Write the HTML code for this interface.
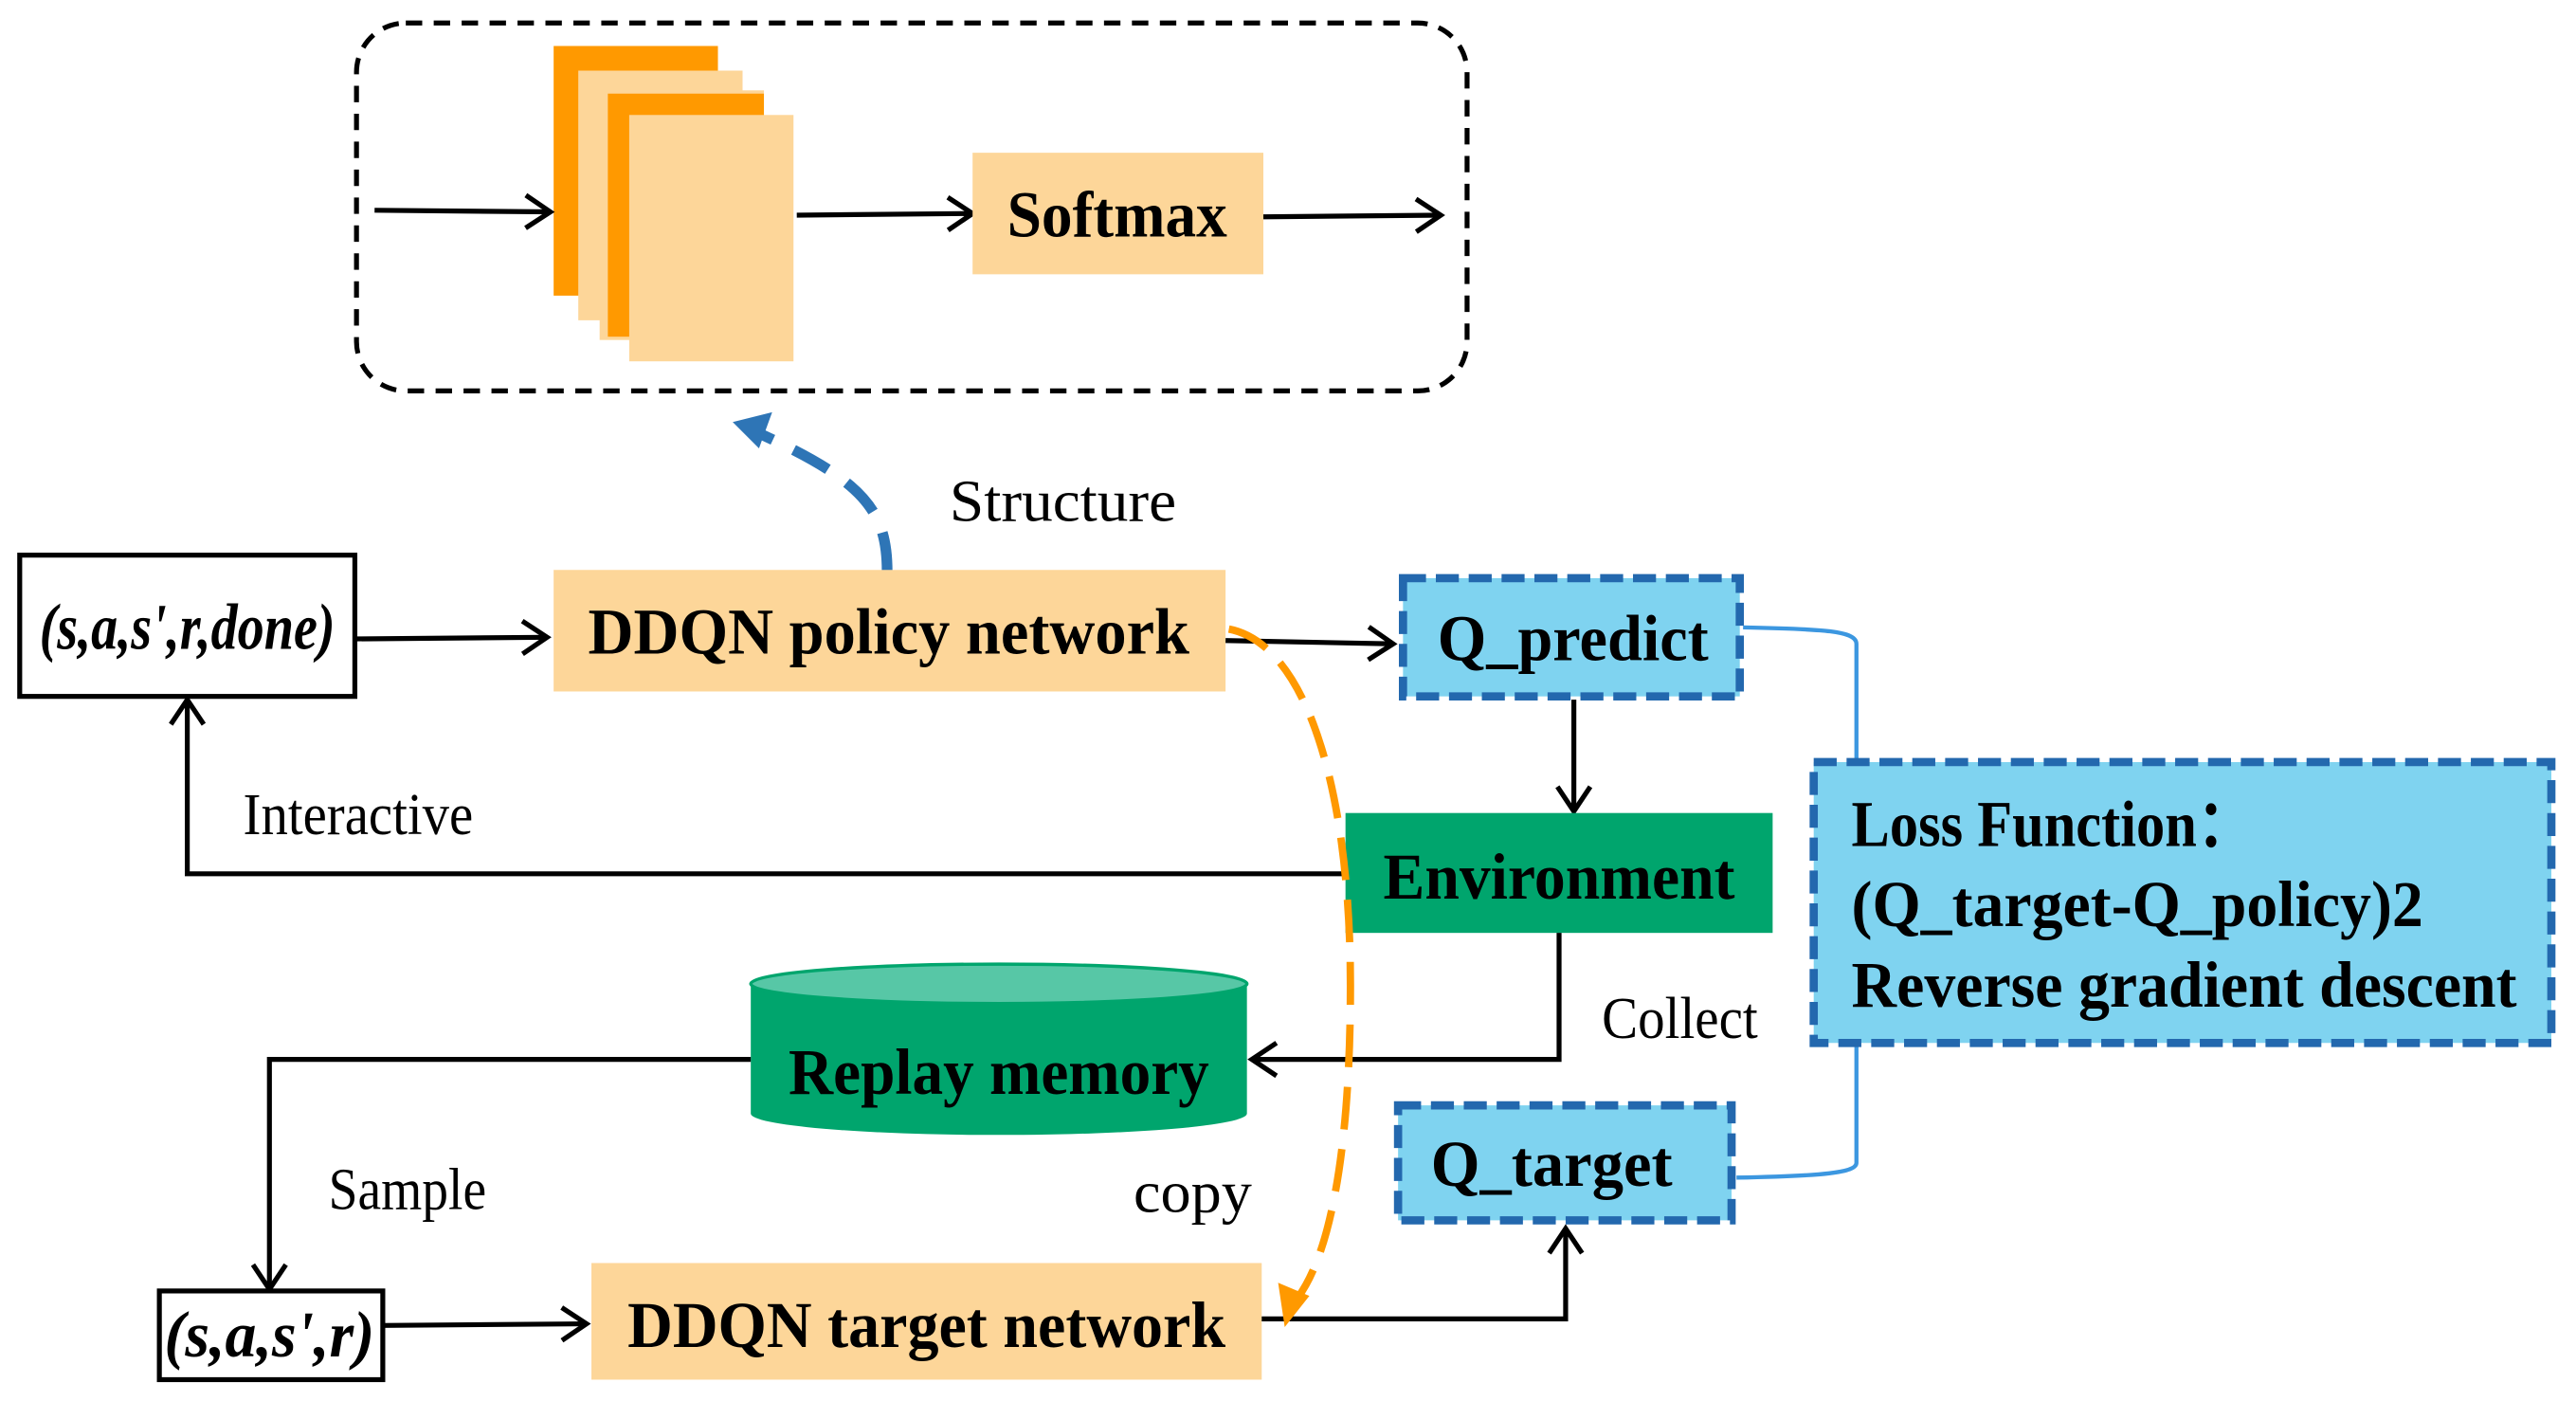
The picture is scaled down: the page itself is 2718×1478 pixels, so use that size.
<!DOCTYPE html>
<html><head><meta charset="utf-8"><style>
html,body{margin:0;padding:0;background:#fff;}
svg{display:block;}
text{font-family:"Liberation Serif",serif;}
.b{font-weight:bold;font-size:40px;}
.n{font-size:36px;}
</style></head><body>
<svg width="2718" height="1478" viewBox="0 0 1568 853" preserveAspectRatio="none" xmlns="http://www.w3.org/2000/svg">
<defs>
<marker id="ah" markerWidth="24" markerHeight="24" refX="19" refY="12" orient="auto" markerUnits="userSpaceOnUse">
<path d="M4,2 L19,12 L4,22" fill="none" stroke="#000" stroke-width="3"/>
</marker>
</defs>
<rect x="217" y="14" width="676" height="224" rx="30" fill="none" stroke="#000" stroke-width="3" stroke-dasharray="10,7"/>
<rect x="337" y="28" width="100" height="152" fill="#FF9900"/>
<rect x="352" y="43" width="100" height="152" fill="#FDD699"/>
<rect x="365" y="55" width="100" height="152" fill="#FDD699"/>
<rect x="370" y="57" width="95" height="148" fill="#FF9900"/>
<rect x="383" y="70" width="100" height="150" fill="#FDD699"/>
<line x1="228" y1="128" x2="335" y2="129" stroke="#000" stroke-width="3" marker-end="url(#ah)"/>
<line x1="485" y1="131" x2="592" y2="130" stroke="#000" stroke-width="3" marker-end="url(#ah)"/>
<rect x="592" y="93" width="177" height="74" fill="#FDD699"/>
<text x="613" y="144" class="b" textLength="134" lengthAdjust="spacingAndGlyphs">Softmax</text>
<line x1="769" y1="132" x2="877" y2="131" stroke="#000" stroke-width="3" marker-end="url(#ah)"/>
<path d="M540,348 C540,310 525,292 458,262" fill="none" stroke="#2E75B6" stroke-width="6.5" stroke-dasharray="24,14"/>
<path d="M446,257 L470,251 L462,273 Z" fill="#2E75B6"/>
<text x="578" y="317" class="n" textLength="138" lengthAdjust="spacingAndGlyphs">Structure</text>
<rect x="12" y="338" width="204" height="86" fill="#fff" stroke="#000" stroke-width="3"/>
<text x="24" y="395" class="b" font-style="italic" font-size="34" textLength="180" lengthAdjust="spacingAndGlyphs">(s,a,s',r,done)</text>
<line x1="216" y1="389" x2="333" y2="388" stroke="#000" stroke-width="3" marker-end="url(#ah)"/>
<rect x="337" y="347" width="409" height="74" fill="#FDD699"/>
<text x="358" y="398" class="b" textLength="366" lengthAdjust="spacingAndGlyphs">DDQN policy network</text>
<line x1="746" y1="390" x2="848" y2="392" stroke="#000" stroke-width="3" marker-end="url(#ah)"/>
<rect x="854" y="352" width="205" height="72" fill="#7FD3F0" stroke="#2368AE" stroke-width="5" stroke-dasharray="14,6"/>
<text x="875" y="402" class="b" textLength="165" lengthAdjust="spacingAndGlyphs">Q_predict</text>
<path d="M1061,382 C1110,383 1130,384 1130,392 L1130,462" fill="none" stroke="#3C97E0" stroke-width="2.5"/>
<path d="M1130,637 L1130,708 C1130,714 1110,716 1057,717" fill="none" stroke="#3C97E0" stroke-width="2.5"/>
<rect x="1104" y="464" width="449" height="171" fill="#7FD3F0" stroke="#2368AE" stroke-width="5" stroke-dasharray="14,6"/>
<text x="1127" y="515" class="b" textLength="245" lengthAdjust="spacingAndGlyphs">Loss Function：</text>
<text x="1127" y="564" class="b" textLength="348" lengthAdjust="spacingAndGlyphs">(Q_target-Q_policy)2</text>
<text x="1127" y="613" class="b" textLength="405" lengthAdjust="spacingAndGlyphs">Reverse gradient descent</text>
<line x1="958" y1="426" x2="958" y2="494" stroke="#000" stroke-width="3" marker-end="url(#ah)"/>
<rect x="819" y="495" width="260" height="73" fill="#00A56D"/>
<text x="842" y="547" class="b" textLength="214" lengthAdjust="spacingAndGlyphs">Environment</text>
<polyline points="819,532 114,532 114,426" fill="none" stroke="#000" stroke-width="3" marker-end="url(#ah)"/>
<text x="148" y="508" class="n" font-size="30" textLength="140" lengthAdjust="spacingAndGlyphs">Interactive</text>
<polyline points="949,568 949,645 762,645" fill="none" stroke="#000" stroke-width="3" marker-end="url(#ah)"/>
<text x="975" y="632" class="n" font-size="30" textLength="95" lengthAdjust="spacingAndGlyphs">Collect</text>
<path d="M457,599 L457,678 A151,13 0 0 0 759,678 L759,599 Z" fill="#00A56D"/>
<ellipse cx="608" cy="599" rx="151" ry="12" fill="#57C7A6" stroke="#00A56D" stroke-width="2"/>
<text x="480" y="666" class="b" textLength="256" lengthAdjust="spacingAndGlyphs">Replay memory</text>
<polyline points="457,645 164,645 164,785" fill="none" stroke="#000" stroke-width="3" marker-end="url(#ah)"/>
<text x="200" y="736" class="n" font-size="30" textLength="96" lengthAdjust="spacingAndGlyphs">Sample</text>
<text x="690" y="738" class="n" font-size="32" textLength="72" lengthAdjust="spacingAndGlyphs">copy</text>
<rect x="97" y="786" width="136" height="54" fill="#fff" stroke="#000" stroke-width="3"/>
<text x="100" y="826" class="b" font-style="italic" font-size="34" textLength="128" lengthAdjust="spacingAndGlyphs">(s,a,s',r)</text>
<line x1="233" y1="807" x2="357" y2="806" stroke="#000" stroke-width="3" marker-end="url(#ah)"/>
<rect x="360" y="769" width="408" height="71" fill="#FDD699"/>
<text x="382" y="820" class="b" textLength="364" lengthAdjust="spacingAndGlyphs">DDQN target network</text>
<polyline points="768,803 953,803 953,748" fill="none" stroke="#000" stroke-width="3" marker-end="url(#ah)"/>
<rect x="851" y="673" width="203" height="70" fill="#7FD3F0" stroke="#2368AE" stroke-width="5" stroke-dasharray="14,6"/>
<text x="871" y="722" class="b" textLength="147" lengthAdjust="spacingAndGlyphs">Q_target</text>
<path d="M748,383 C795,392 822,480 822,600 C822,690 812,760 790,790" fill="none" stroke="#FF9900" stroke-width="4.5" stroke-dasharray="26,12"/>
<path d="M782,808 L778,781 L797,789 Z" fill="#FF9900"/>
</svg>
</body></html>
